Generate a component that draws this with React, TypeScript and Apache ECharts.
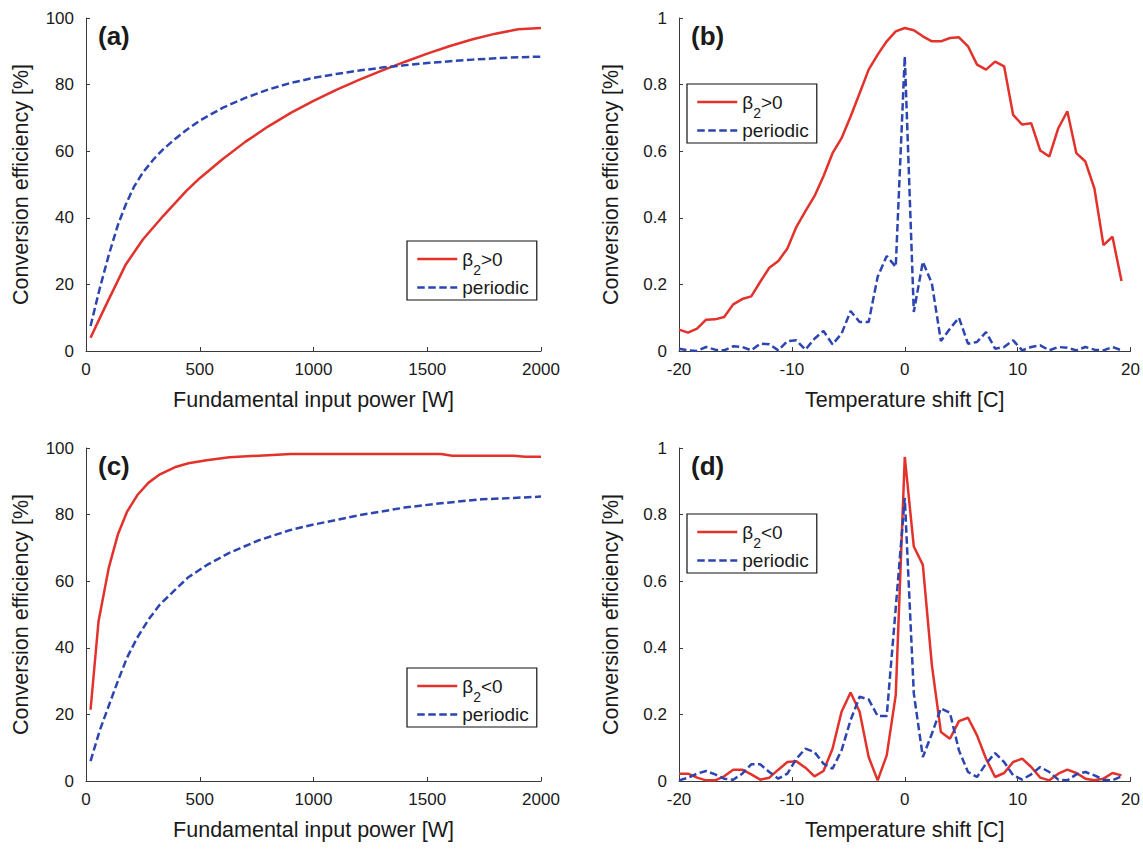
import React, { useEffect, useRef } from "react";
import * as echarts from "echarts";

// ---------- Data ----------
// Panel (a): conversion efficiency vs fundamental input power (beta2 > 0)
const powerARed = [20, 60, 100, 175, 250, 340, 440, 500, 600, 700, 800, 900, 1000, 1100, 1200, 1300, 1400, 1500, 1600, 1700, 1800, 1900, 2000];
const redA = [4, 9.8, 15.5, 26, 33.5, 40.6, 48, 51.9, 57.6, 62.8, 67.4, 71.5, 75.1, 78.4, 81.4, 84.2, 86.8, 89.3, 91.6, 93.6, 95.3, 96.6, 97];
const powerABlue = [20, 60, 100, 140, 175, 210, 250, 300, 340, 390, 440, 500, 600, 700, 800, 900, 1000, 1100, 1200, 1300, 1400, 1500, 1600, 1700, 1800, 1900, 2000];
const blueA = [7.5, 18.7, 28.8, 37.8, 44, 49.2, 53.6, 57.8, 60.6, 63.6, 66.3, 69.2, 73, 76, 78.5, 80.5, 82, 83.2, 84.2, 85.1, 85.8, 86.5, 87, 87.5, 87.9, 88.2, 88.4];

// Panel (c): conversion efficiency vs fundamental input power (beta2 < 0)
const powerCRed = [20, 55, 100, 140, 180, 225, 275, 325, 390, 450, 530, 630, 760, 900, 1000, 1200, 1400, 1560, 1610, 1740, 1880, 1930, 2000];
const redC = [21.4, 47.9, 64, 74, 80.8, 85.8, 89.6, 92.1, 94.2, 95.4, 96.3, 97.2, 97.7, 98.2, 98.2, 98.2, 98.2, 98.2, 97.7, 97.7, 97.7, 97.4, 97.4];
const powerCBlue = [20, 60, 100, 140, 180, 225, 275, 325, 390, 450, 530, 630, 760, 900, 1000, 1200, 1400, 1560, 1740, 1880, 2000];
const blueC = [6, 15.1, 22.6, 30, 37, 43, 48.5, 53, 57.3, 61.2, 64.8, 68.5, 72.3, 75.4, 77, 79.8, 82.1, 83.4, 84.6, 85, 85.4];

// Panels (b), (d): conversion efficiency vs temperature shift
const tempShift = [-20, -19.2, -18.4, -17.6, -16.8, -16, -15.2, -14.4, -13.6, -12.8, -12, -11.2, -10.4, -9.6, -8.8, -8, -7.2, -6.4, -5.6, -4.8, -4, -3.2, -2.4, -1.6, -0.8, 0, 0.8, 1.6, 2.4, 3.2, 4, 4.8, 5.6, 6.4, 7.2, 8, 8.8, 9.6, 10.4, 11.2, 12, 12.8, 13.6, 14.4, 15.2, 16, 16.8, 17.6, 18.4, 19.2];
const redB = [0.064, 0.055, 0.067, 0.094, 0.095, 0.102, 0.14, 0.156, 0.164, 0.208, 0.25, 0.27, 0.308, 0.373, 0.42, 0.465, 0.525, 0.594, 0.639, 0.704, 0.774, 0.845, 0.89, 0.93, 0.96, 0.97, 0.963, 0.945, 0.93, 0.93, 0.94, 0.942, 0.915, 0.86, 0.845, 0.869, 0.855, 0.709, 0.68, 0.684, 0.602, 0.584, 0.669, 0.72, 0.594, 0.569, 0.488, 0.318, 0.343, 0.21];
const blueB = [0.007, 0.002, 0.0, 0.012, 0.004, 0.002, 0.014, 0.012, 0.002, 0.022, 0.02, 0.002, 0.03, 0.032, 0.004, 0.037, 0.06, 0.02, 0.052, 0.12, 0.087, 0.087, 0.223, 0.285, 0.253, 0.885, 0.117, 0.268, 0.203, 0.03, 0.067, 0.1, 0.022, 0.027, 0.057, 0.007, 0.012, 0.032, 0.002, 0.012, 0.017, 0.002, 0.012, 0.01, 0.002, 0.012, 0.004, 0.002, 0.012, 0.002];
const redD = [0.022, 0.022, 0.01, 0.002, 0.002, 0.014, 0.034, 0.034, 0.02, 0.004, 0.01, 0.034, 0.057, 0.059, 0.04, 0.014, 0.03, 0.097, 0.208, 0.266, 0.208, 0.072, 0.002, 0.077, 0.258, 0.973, 0.704, 0.649, 0.348, 0.147, 0.127, 0.18, 0.19, 0.137, 0.067, 0.012, 0.024, 0.057, 0.067, 0.042, 0.01, 0.002, 0.022, 0.034, 0.024, 0.007, 0.002, 0.007, 0.024, 0.017];
const blueD = [0.002, 0.01, 0.022, 0.03, 0.02, 0.007, 0.004, 0.022, 0.05, 0.05, 0.027, 0.007, 0.022, 0.067, 0.097, 0.087, 0.052, 0.037, 0.092, 0.183, 0.253, 0.245, 0.195, 0.195, 0.52, 0.85, 0.263, 0.072, 0.142, 0.218, 0.205, 0.092, 0.027, 0.012, 0.052, 0.084, 0.057, 0.017, 0.004, 0.02, 0.042, 0.027, 0.004, 0.002, 0.02, 0.027, 0.017, 0.004, 0.002, 0.014];

const powerTicks = { min: 0, max: 2000, interval: 500 };
const percentTicks = { min: 0, max: 100, interval: 20 };
const tempTicks = { min: -20, max: 20, interval: 10 };
const fracTicks = { min: 0, max: 1, interval: 0.2 };

const panelLabels = ["(a)", "(b)", "(c)", "(d)"];
const NAME_POS = "β2>0";
const NAME_NEG = "β2<0";
const NAME_PER = "periodic";

// ---------- Styling ----------
const FONT = "'Liberation Sans', Arial, Helvetica, sans-serif";
const RED = "#e2322b";
const BLUE = "#2c45b0";
const AXIS = "#3a3a3a";
const TEXT = "#1a1a1a";

const zip = (xs: number[], ys: number[]) => xs.map((x, i) => [x, ys[i]]);

function App() {
  const ref = useRef<HTMLDivElement>(null);

  useEffect(() => {
    document.body.style.margin = "0";
    if (!ref.current) return;
    const chart = echarts.init(ref.current, null, { renderer: "svg" });

    const grids = [
      { left: 86, top: 18, width: 455, height: 333 },
      { left: 679, top: 18, width: 453, height: 333 },
      { left: 86, top: 448, width: 455, height: 333 },
      { left: 679, top: 448, width: 453, height: 333 },
    ];

    const axisCommon = {
      type: "value" as const,
      axisLine: { show: true, onZero: false, lineStyle: { color: AXIS, width: 1 } },
      axisTick: { show: true, inside: true, length: 4, lineStyle: { color: AXIS, width: 1 } },
      splitLine: { show: false },
      nameLocation: "middle" as const,
      nameTextStyle: { fontSize: 21.5, color: TEXT, fontFamily: FONT },
    };

    const xAxis = grids.map((_, i) => {
      const isPower = i === 0 || i === 2;
      const t = isPower ? powerTicks : tempTicks;
      return {
        ...axisCommon,
        gridIndex: i,
        ...t,
        name: isPower ? "Fundamental input power [W]" : "Temperature shift [C]",
        nameGap: 38,
        axisLabel: {
          fontSize: 17,
          color: TEXT,
          fontFamily: FONT,
          margin: 10,
          formatter: (v: number) => String(v),
        },
      };
    });

    const yAxis = grids.map((_, i) => {
      const isPower = i === 0 || i === 2;
      const t = isPower ? percentTicks : fracTicks;
      return {
        ...axisCommon,
        gridIndex: i,
        ...t,
        name: "Conversion efficiency [%]",
        nameGap: isPower ? 54 : 57,
        axisLabel: {
          fontSize: 17,
          color: TEXT,
          fontFamily: FONT,
          margin: 12,
          formatter: (v: number) => String(Math.round(v * 10) / 10),
        },
      };
    });

    const lineSeries = (name: string, idx: number, data: number[][], color: string, dashed: boolean) => ({
      type: "line" as const,
      name,
      xAxisIndex: idx,
      yAxisIndex: idx,
      data,
      symbol: "none",
      showSymbol: false,
      smooth: false,
      lineStyle: dashed
        ? { color, width: 2.5, type: [7.5, 3.5] as any }
        : { color, width: 2.5, type: "solid" as const },
      itemStyle: { color },
      z: dashed ? 3 : 2,
    });

    const series = [
      lineSeries(NAME_POS, 0, zip(powerARed, redA), RED, false),
      lineSeries(NAME_PER, 0, zip(powerABlue, blueA), BLUE, true),
      lineSeries(NAME_POS, 1, zip(tempShift, redB), RED, false),
      lineSeries(NAME_PER, 1, zip(tempShift, blueB), BLUE, true),
      lineSeries(NAME_NEG, 2, zip(powerCRed, redC), RED, false),
      lineSeries(NAME_PER, 2, zip(powerCBlue, blueC), BLUE, true),
      lineSeries(NAME_NEG, 3, zip(tempShift, redD), RED, false),
      lineSeries(NAME_PER, 3, zip(tempShift, blueD), BLUE, true),
    ];

    const legendFormatter = (name: string) =>
      name === NAME_PER ? `{n|${name}}` : `{n|β}{s|2}{n|${name.slice(2)}}`;

    const legendPos = [
      { left: 407, top: 241, data: [NAME_POS, NAME_PER] },
      { left: 687, top: 84, data: [NAME_POS, NAME_PER] },
      { left: 407, top: 668, data: [NAME_NEG, NAME_PER] },
      { left: 687, top: 514, data: [NAME_NEG, NAME_PER] },
    ];

    const legend = legendPos.map((p) => ({
      left: p.left,
      top: p.top,
      data: p.data,
      orient: "vertical" as const,
      backgroundColor: "#ffffff",
      borderColor: "#111111",
      borderWidth: 1.2,
      borderRadius: 0,
      padding: [0, 8, 3, 9],
      itemGap: 1,
      itemWidth: 40,
      itemHeight: 14,
      selectedMode: false,
      itemStyle: { opacity: 0 },
      lineStyle: { width: 2.5 },
      formatter: legendFormatter,
      textStyle: {
        color: TEXT,
        fontFamily: FONT,
        fontSize: 19,
        rich: {
          n: { fontSize: 19, lineHeight: 22, fontFamily: FONT, color: TEXT },
          s: { fontSize: 14, lineHeight: 15, padding: [22, 0, 0, 0], fontFamily: FONT, color: TEXT },
        },
      },
    }));

    const graphic = panelLabels.map((label, i) => ({
      type: "text" as const,
      left: grids[i].left + 12,
      top: grids[i].top + 5,
      style: {
        text: label,
        font: `bold 26px ${FONT}`,
        fill: TEXT,
      },
    }));

    chart.setOption({
      animation: false,
      backgroundColor: "#ffffff",
      grid: grids,
      xAxis,
      yAxis,
      series,
      legend,
      graphic,
    });

    return () => chart.dispose();
  }, []);

  return <div ref={ref} style={{ width: 1143, height: 849 }} />;
}

export default App;
